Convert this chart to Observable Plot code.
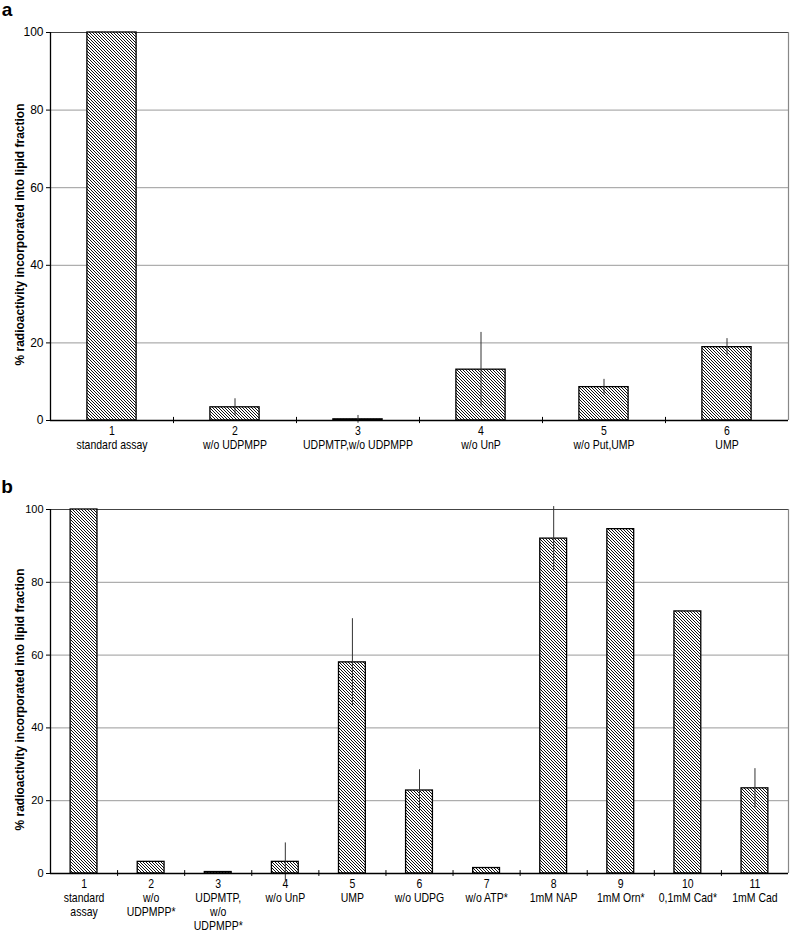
<!DOCTYPE html>
<html>
<head>
<meta charset="utf-8">
<script src="https://cdn.jsdelivr.net/npm/d3@7"></script>
<script src="https://cdn.jsdelivr.net/npm/@observablehq/plot@0.6"></script>
<style>
  html, body { margin: 0; padding: 0; background: #fff; }
  #chart { position: relative; width: 800px; height: 942px; }
  #chart svg { display: block; }
</style>
</head>
<body>
<div id="chart"></div>
<script>
// ---- Data ----
const yTitle = "% radioactivity incorporated into lipid fraction";
const yTicks = [0, 20, 40, 60, 80, 100];

// Panel a
const catsA = ["standard assay", "w/o UDPMPP", "UDPMTP,w/o UDPMPP", "w/o UnP", "w/o Put,UMP", "UMP"];
const valsA = [100, 3.4, 0.3, 13.1, 8.6, 18.9];
const errsA = [0, 2.2, 1.0, 9.6, 2.0, 2.2];

// Panel b
const catsB = ["standard\nassay", "w/o\nUDPMPP*", "UDPMTP,\nw/o\nUDPMPP*", "w/o UnP", "UMP", "w/o UDPG",
               "w/o ATP*", "1mM NAP", "1mM Orn*", "0,1mM Cad*", "1mM Cad"];
const valsB = [100, 3.2, 0.4, 3.2, 58, 22.8, 1.5, 92, 94.6, 72, 23.4];
const errsB = [0, 0, 0, 5.2, 12, 5.7, 0, 8.8, 0, 0, 5.4];

const baseFont = "'Liberation Sans', Arial, sans-serif";

function panel({cats, vals, errs, height, marginTop, marginBottom, tickFont, labelSize, letter, letterY, hatchId}) {
  const N = cats.length;
  const data = cats.map((c, i) => ({i, c, v: vals[i], e: errs[i]}));
  const svg = Plot.plot({
    width: 800, height,
    marginLeft: 50, marginRight: 12, marginTop, marginBottom,
    style: {fontFamily: baseFont, fontSize: "11px", color: "#000", background: "#fff", overflow: "visible"},
    x: {domain: [0, N], axis: null},
    y: {domain: [0, 100], axis: null},
    marks: [
      Plot.ruleY([20, 40, 60, 80], {stroke: "#9a9a9a", strokeWidth: 1}),
      Plot.ruleY([100], {stroke: "#444", strokeWidth: 1.2}),
      Plot.ruleX([N], {stroke: "#888", strokeWidth: 1.2}),
      Plot.rect(data, {x1: d => d.i + 0.3, x2: d => d.i + 0.7, y1: 0, y2: "v",
        fill: `url(#${hatchId})`, stroke: "#000", strokeWidth: 1.3}),
      Plot.ruleX(data.filter(d => d.e > 0), {x: d => d.i + 0.5, y1: d => d.v - d.e, y2: d => d.v + d.e,
        stroke: "#333", strokeWidth: 1}),
      Plot.ruleY([0], {stroke: "#000", strokeWidth: 1.3}),
      Plot.ruleX([0], {stroke: "#000", strokeWidth: 1.3}),
      Plot.ruleX(d3.range(1, N), {y1: -0.8, y2: 0.8, stroke: "#000", strokeWidth: 1}),
      Plot.axisY({ticks: yTicks, tickSize: 4, tickPadding: 3, fontSize: tickFont, label: null}),
      Plot.text(data, {x: d => d.i + 0.5, y: 0, text: d => `${d.i + 1}\n${d.c}`, className: "xlab",
        lineAnchor: "top", dy: 5, fontSize: labelSize, lineHeight: 1.12}),
      Plot.text([yTitle], {frameAnchor: "left", rotate: -90, dx: -30, dy: 8, textAnchor: "middle",
        fontWeight: "bold", fontSize: 12})
    ]
  });
  const s = d3.select(svg);
  // condensed look for category labels
  s.selectAll(".xlab text").each(function() {
    const t = d3.select(this);
    let tr = t.attr("transform");
    if (!tr) {
      const x = +t.attr("x") || 0, y = +t.attr("y") || 0;
      t.attr("x", null).attr("y", null);
      tr = `translate(${x},${y})`;
    }
    t.attr("transform", tr + " scale(0.84,1)");
  });
  const defs = s.insert("defs", ":first-child");
  const p = defs.append("pattern").attr("id", hatchId).attr("patternUnits", "userSpaceOnUse")
    .attr("width", 3).attr("height", 3);
  p.append("rect").attr("width", 3).attr("height", 3).attr("fill", "#fff");
  p.append("path").attr("d", "M-1,-1L4,4M-1,2L1,4M2,-1L4,1").attr("stroke", "#111").attr("stroke-width", 1);
  s.append("text").attr("x", 7).attr("y", letterY).attr("font-size", 19).attr("font-weight", "bold")
    .attr("font-family", baseFont).text(letter);
  return svg;
}

const chart = document.getElementById("chart");
chart.append(panel({cats: catsA, vals: valsA, errs: errsA, height: 470, marginTop: 32, marginBottom: 50,
  tickFont: 12, labelSize: 12.5, letter: "a", letterY: 16, hatchId: "hatchA"}));
chart.append(panel({cats: catsB, vals: valsB, errs: errsB, height: 472, marginTop: 39, marginBottom: 69,
  tickFont: 11, labelSize: 12.5, letter: "b", letterY: 23, hatchId: "hatchB"}));
</script>
</body>
</html>
